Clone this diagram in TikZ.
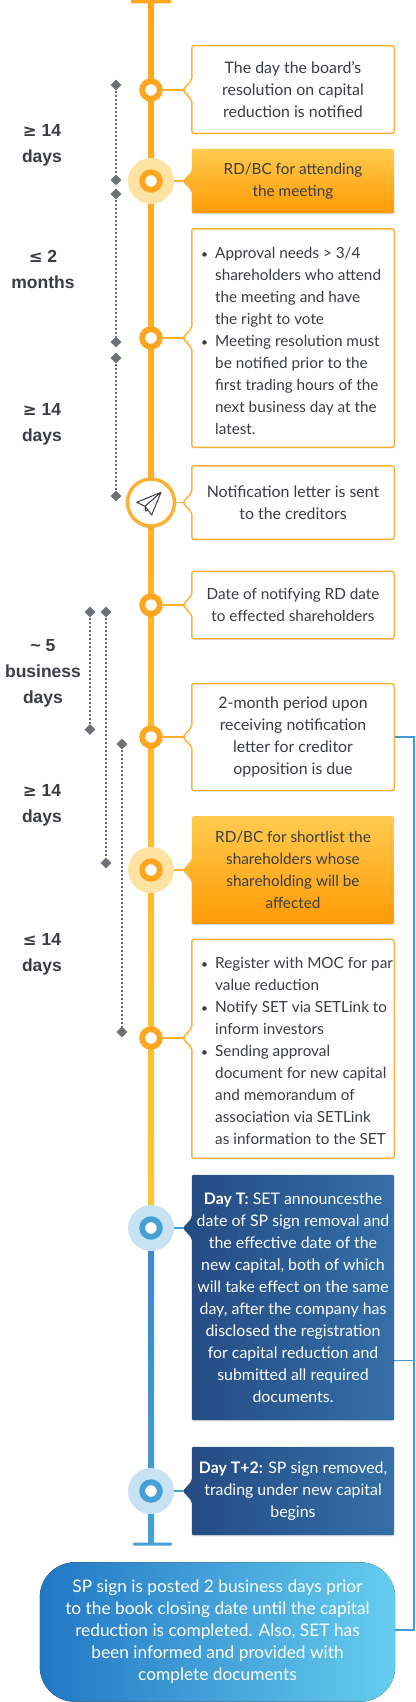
\documentclass[tikz,border=0pt]{standalone}
\usepackage{fontspec}
\setmainfont{Lato}
\newfontfamily\labelfont{Liberation Sans}
\newfontfamily\symfont{DejaVu Sans}
\usetikzlibrary{shapes.geometric,shadows,calc,backgrounds}
\definecolor{orA}{HTML}{FFA51E}
\definecolor{orB}{HTML}{FFC633}
\definecolor{ring}{HTML}{FFA51E}
\definecolor{edgeO}{HTML}{FFB033}
\definecolor{haloO}{HTML}{FFE3A3}
\definecolor{haloB}{HTML}{C6E2F3}
\definecolor{blueA}{HTML}{3F86C8}
\definecolor{blueB}{HTML}{45A0D8}
\definecolor{railc}{HTML}{3F9CD9}
\definecolor{ink}{HTML}{3A3D42}
\definecolor{dot}{HTML}{6B7079}
\definecolor{goldT}{HTML}{FFCB4F}
\definecolor{goldB}{HTML}{FF9A05}
\definecolor{navyL}{HTML}{254A82}
\definecolor{navyR}{HTML}{346FA8}
\definecolor{pillL}{HTML}{2277C4}
\definecolor{pillR}{HTML}{66CDEE}
\newcommand{\sz}{\fontsize{15.9}{22}\selectfont}
\newcommand{\szb}{\fontsize{15.3}{22}\selectfont}
\newcommand{\bul}{\makebox[14pt][l]{\fontsize{12}{22}\selectfont\textbullet}}
\newcommand{\ind}{\hspace*{14pt}}
\newcommand{\geqs}{{\symfont\fontsize{16.5}{26}\selectfont ≥}}
\newcommand{\leqs}{{\symfont\fontsize{16.5}{26}\selectfont ≤}}
\tikzset{
 softshadow/.style={drop shadow={shadow xshift=0pt,shadow yshift=-1.2pt,opacity=.14,fill=black}},
 txt/.style={inner sep=0pt,minimum width=202pt,align=center,text=ink,font=\sz,execute at begin node={\rule{0pt}{15pt}}},
 txts/.style={txt,font=\szb},
 txtw/.style={txt,text=white},
 bullets/.style={inner sep=0pt,align=left,text=ink,font=\szb},
 frame/.style={inner sep=0pt,minimum width=202pt},
 outline/.style={draw=edgeO,line width=1.4pt,fill=white,rounded corners=2pt,softshadow},
 golden/.style={top color=goldT,bottom color=goldB,rounded corners=2pt,softshadow},
 navy/.style={left color=navyL,right color=navyR,rounded corners=2pt,softshadow},
 ringO/.style={circle,draw=ring,fill=white,line width=5.8pt,minimum size=17.6pt,inner sep=0pt},
 ringS/.style={ringO,drop shadow={shadow xshift=0pt,shadow yshift=-2.5pt,opacity=.18,fill=black}},
 ringB/.style={circle,draw=blueB,fill=white,line width=5.8pt,minimum size=17.6pt,inner sep=0pt},
 hO/.style={circle,fill=haloO,minimum size=46pt,inner sep=0pt},
 hB/.style={circle,fill=haloB,minimum size=46pt,inner sep=0pt},
 spanmark/.style={diamond,fill=dot,minimum width=11pt,minimum height=11pt,aspect=1,inner sep=0pt},
 spanline/.style={draw=dot,line width=1.4pt,dash pattern=on 2pt off 2pt},
 dur/.style={inner sep=0pt,align=center,text=ink,font=\labelfont\bfseries\fontsize{17.5}{26}\selectfont},
 linkO/.style={draw=edgeO,line width=1.4pt},
 linkB/.style={draw=blueB,line width=1.4pt},
 rail/.style={draw=railc,line width=1.6pt},
}
\newcommand{\callshape}[3]{% style, box, ring
 \path[#1] (#2.north west) -- (#2.north east) -- (#2.south east) -- (#2.south west)
  -- ($(#2.west |- #3)+(0,10)$) -- ($(#2.west |- #3)+(-9,0)$) -- ($(#2.west |- #3)+(0,-10)$) -- cycle;}
\begin{document}
\begin{tikzpicture}[x=1pt,y=-1pt]
\useasboundingbox (0,0) rectangle (415,1702);
% timeline nodes
\coordinate (top) at (151,0);
\coordinate (end) at (151,1544);
\node[ringS] (n1) at (151,90) {};
\node[hO] (h2) at (151,181) {};
\node[ringO] (n2) at (151,181) {};
\node[ringS] (n3) at (151,338) {};
\node[circle,draw=edgeO,fill=white,line width=3.4pt,minimum size=47pt,inner sep=0pt,drop shadow={shadow xshift=0pt,shadow yshift=-2.5pt,opacity=.16,fill=black}] (n4) at (151,502.5) {};
\node[ringS] (n5) at (151,605) {};
\node[ringS] (n6) at (151,737) {};
\node[hO] (h7) at (151,870) {};
\node[ringO] (n7) at (151,870) {};
\node[ringS] (n8) at (151,1038) {};
\node[hB] (h9) at (151,1228) {};
\node[ringB] (n9) at (151,1228) {};
\node[hB] (h10) at (151,1491) {};
\node[ringB] (n10) at (151,1491) {};
% boxes
\node[txt,minimum height=87pt] (b1) at (293,89.5) {The day the board’s\\resolution on capital\\reduction is notified};
\node[txts,minimum height=64pt] (b2) at (293,181) {RD/BC for attending\\the meeting};
\node[frame,minimum height=218pt] (b3) at (293,338) {};
\node[bullets,anchor=west] (t3) at (201,341) {\bul Approval needs > 3/4\\\ind shareholders who attend\\\ind the meeting and have\\\ind the right to vote\\\bul Meeting resolution must\\\ind be notified prior to the\\\ind first trading hours of the\\\ind next business day at the\\\ind latest.};
\node[txt,minimum height=73pt] (b4) at (293,502.5) {Notification letter is sent\\to the creditors};
\node[txts,minimum height=67pt] (b5) at (293,605) {Date of notifying RD date\\to effected shareholders};
\node[txt,minimum height=106.5pt] (b6) at (293,737) {2-month period upon\\receiving notification\\letter for creditor\\opposition is due};
\node[txts,minimum height=107.5pt] (b7) at (293,870) {RD/BC for shortlist the\\shareholders whose\\shareholding will be\\affected};
\node[frame,minimum height=218.5pt] (b8) at (293,1048.8) {};
\node[bullets,anchor=west] (t8) at (201,1051) {\bul Register with MOC for par\\\ind value reduction\\\bul Notify SET via SETLink to\\\ind inform investors\\\bul Sending approval\\\ind document for new capital\\\ind and memorandum of\\\ind association via SETLink\\\ind as information to the SET};
\node[txtw,minimum height=245pt] (b9) at (293,1297.5) {\textbf{Day T:} SET announcesthe\\date of SP sign removal and\\the effective date of the\\new capital, both of which\\will take effect on the same\\day, after the company has\\disclosed the registration\\for capital reduction and\\submitted all required\\documents.};
\node[txtw,minimum height=88pt] (b10) at (293,1491) {\textbf{Day T+2:} SP sign removed,\\trading under new capital\\begins};
\node[inner sep=0pt,minimum width=355pt,minimum height=139pt,align=center,text=white,font=\fontsize{17.3}{22}\selectfont,execute at begin node={\rule{0pt}{15pt}}] (pill) at (217.5,1632) {SP sign is posted 2 business days prior\\to the book closing date until the capital\\reduction is completed. Also, SET has\\been informed and provided with\\complete documents};
% duration labels
\node[dur] (d1) at (42,145) {\geqs{} 14\\days};
\node[dur] (d2) at (43,269) {\leqs{} 2\\months};
\node[dur] (d3) at (42,424) {\geqs{} 14\\days};
\node[dur] (d4) at (43,673) {\textasciitilde{} 5\\business\\days};
\node[dur] (d5) at (42,805) {\geqs{} 14\\days};
\node[dur] (d6) at (42,954) {\leqs{} 14\\days};
% span markers
\node[spanmark] (a1) at (116,85) {};
\node[spanmark] (a2) at (116,180) {};
\node[spanmark] (a3) at (116,194) {};
\node[spanmark] (a4) at (116,342) {};
\node[spanmark] (a5) at (116,358) {};
\node[spanmark] (a6) at (116,496) {};
\node[spanmark] (c1) at (90,612) {};
\node[spanmark] (c2) at (90,729.5) {};
\node[spanmark] (c3) at (106,612) {};
\node[spanmark] (c4) at (106,863) {};
\node[spanmark] (c5) at (122,744) {};
\node[spanmark] (c6) at (122,1032) {};
\draw[spanline] (a1) -- (a2);
\draw[spanline] (a3) -- (a4);
\draw[spanline] (a5) -- (a6);
\draw[spanline] (c1) -- (c2);
\draw[spanline] (c3) -- (c4);
\draw[spanline] (c5) -- (c6);
% plane icon
\draw[ink,line width=1pt,line join=round] (161,492.3) -- (136.7,502.3) -- (145,506.3) -- cycle
 (161,492.3) -- (151.7,515) -- (145,506.3) -- (145.6,511) -- (148.4,509.6);
\begin{pgfonlayer}{background}
 \fill[top color=orA,bottom color=orB] ($(top)+(-3,0)$) rectangle ($(n9)+(3,0)$);
 \fill[top color=blueA,bottom color=blueB] ($(n9)+(-3,0)$) rectangle ($(end)+(3,0)$);
 \fill[orA,rounded corners=1pt] (131,-3) rectangle (171,3.5);
 \fill[blueB,rounded corners=1pt] ($(end)+(-18,-1.5)$) rectangle ($(end)+(21,1.5)$);
 \draw[linkO] (n1) -- (n1 -| b1.west);
 \draw[linkO] (n2) -- (n2 -| b2.west);
 \draw[linkO] (n3) -- (n3 -| b3.west);
 \draw[linkO] (n4) -- (n4 -| b4.west);
 \draw[linkO] (n5) -- (n5 -| b5.west);
 \draw[linkO] (n6) -- (n6 -| b6.west);
 \draw[linkO] (n7) -- (n7 -| b7.west);
 \draw[linkO] (n8) -- (n8 -| b8.west);
 \draw[linkB] (n9) -- (n9 -| b9.west);
 \draw[linkB] (n10) -- (n10 -| b10.west);
 \coordinate (rt) at (414,737);
 \coordinate (rm) at (414,1360.5);
 \coordinate (rb) at (414,1630);
 \draw[rail] (rt -| b6.east) -- (rt) -- (rb) -- (rb -| pill.east);
 \draw[rail] (rm -| b9.east) -- (rm);
 \callshape{outline}{b1}{n1}
 \callshape{golden}{b2}{n2}
 \callshape{outline}{b3}{n3}
 \callshape{outline}{b4}{n4}
 \callshape{outline}{b5}{n5}
 \callshape{outline}{b6}{n6}
 \callshape{golden}{b7}{n7}
 \callshape{outline}{b8}{n8}
 \callshape{navy}{b9}{n9}
 \callshape{navy}{b10}{n10}
 \fill[left color=pillL,right color=pillR,rounded corners=35pt] (pill.north west) rectangle (pill.south east);
\end{pgfonlayer}
\end{tikzpicture}
\end{document}
